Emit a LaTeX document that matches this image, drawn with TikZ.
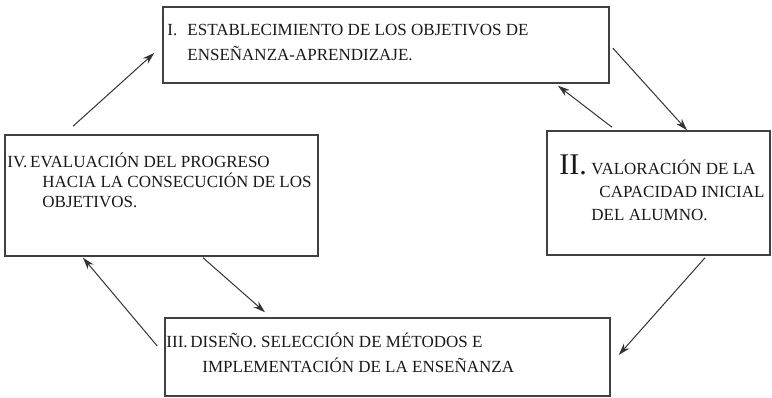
\documentclass[tikz,border=0pt]{standalone}
\usepackage{fontspec}
\setmainfont{Liberation Serif}
\usetikzlibrary{positioning,arrows.meta}

\begin{document}
\begin{tikzpicture}[x=1pt, y=1pt,
    caja/.style={draw=black!75, line width=1.5pt, rectangle, inner sep=0pt},
    texto/.style={anchor=north west, inner sep=0pt, align=left, text=black!90},
    flecha/.style={-{Stealth[length=12pt,width=7.5pt]}, line width=1pt, draw=black!80}]
    \useasboundingbox (0,0) rectangle (772,397);

    % Boxes
    \node[caja, minimum width=446pt, minimum height=76pt] (obj) at (386,352) {};
    \node[caja, minimum width=223pt, minimum height=124pt] (val) at (658.5,204) {};
    \node[caja, minimum width=313pt, minimum height=121pt] (eva) at (161.5,201.5) {};
    \node[caja, minimum width=445pt, minimum height=78pt] (dis) at (387.5,40) {};

    % Texts
    \node[texto, font=\fontsize{17}{25}\selectfont] (obj-t) at ([xshift=5pt,yshift=-18pt]obj.north west)
        {\makebox[20pt][l]{I.}ESTABLECIMIENTO DE LOS OBJETIVOS DE\\
         \hspace*{20pt}ENSEÑANZA-APRENDIZAJE.};
    \node[texto, font=\fontsize{17}{23}\selectfont] (val-t) at ([xshift=13pt,yshift=-24pt]val.north west)
        {\makebox[32pt][l]{\fontsize{30}{30}\selectfont II.}VALORACIÓN DE LA\\
         \hspace*{40pt}CAPACIDAD INICIAL\\
         \hspace*{32pt}DEL ALUMNO.};
    \node[texto, font=\fontsize{17}{20}\selectfont] (eva-t) at ([xshift=3pt,yshift=-18pt]eva.north west)
        {IV.\kern-1.5pt\ EVALUACIÓN DEL PROGRESO\\
         \hspace*{35pt}HACIA LA CONSECUCIÓN DE LOS\\
         \hspace*{35pt}OBJETIVOS.};
    \node[texto, font=\fontsize{17}{25}\selectfont] (dis-t) at ([xshift=2pt,yshift=-15pt]dis.north west)
        {III.\kern-1.5pt\ DISEÑO. SELECCIÓN DE MÉTODOS E\\
         \hspace*{36pt}IMPLEMENTACIÓN DE LA ENSEÑANZA};

    % Arrows
    \draw[flecha] ([xshift=3pt,yshift=-3pt]obj.east) -- ([xshift=28.5pt]val.north);
    \draw[flecha] ([xshift=-46.5pt,yshift=3pt]val.north) -- ([xshift=172pt,yshift=-2pt]obj.south);
    \draw[flecha] ([xshift=46.5pt,yshift=-2pt]val.south) -- ([xshift=8pt,yshift=2pt]dis.east);
    \draw[flecha] ([xshift=-7pt,yshift=11pt]dis.west) -- ([xshift=-78.5pt,yshift=-1pt]eva.south);
    \draw[flecha] ([xshift=41.5pt,yshift=-1pt]eva.south) -- ([xshift=-122.5pt,yshift=5pt]dis.north);
    \draw[flecha] ([xshift=-88.5pt,yshift=8pt]eva.north) -- ([xshift=-8pt,yshift=-8pt]obj.west);
\end{tikzpicture}
\end{document}
